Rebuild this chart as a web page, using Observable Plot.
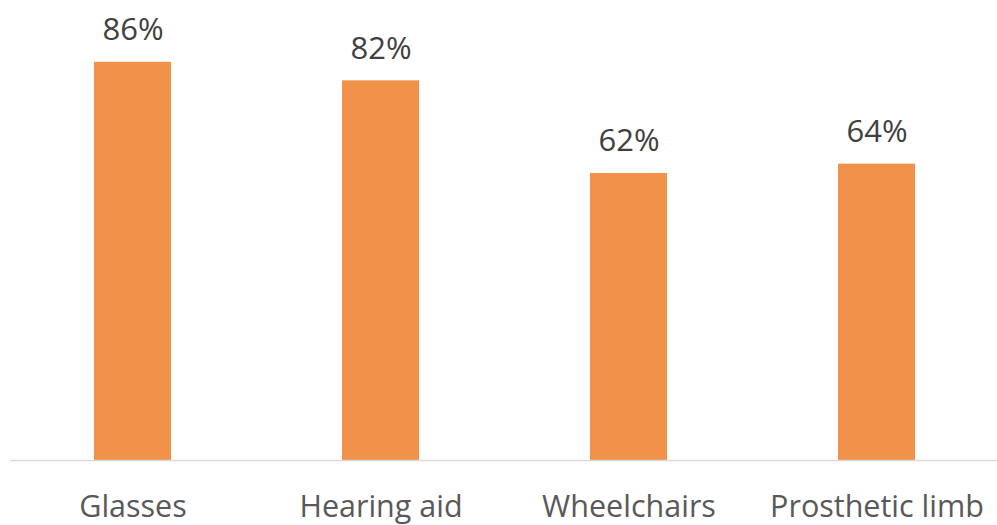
<!DOCTYPE html>
<html>
<head>
<meta charset="utf-8">
<script src="https://cdn.jsdelivr.net/npm/d3@7"></script>
<script src="https://cdn.jsdelivr.net/npm/@observablehq/plot@0.6"></script>
<style>
  html, body { margin: 0; padding: 0; background: #fff; }
  #chart svg { display: block; }
</style>
</head>
<body>
<div id="chart"></div>
<script>
const categories = ["Glasses", "Hearing aid", "Wheelchairs", "Prosthetic limb"];
const values = [86, 82, 62, 64];

const data = categories.map((c, i) => ({category: c, value: values[i]}));

const chart = Plot.plot({
  width: 997,
  height: 525,
  marginTop: 0,
  marginLeft: 10,
  marginRight: 0,
  marginBottom: 65,
  style: {fontFamily: "'Open Sans', sans-serif", background: "#fff"},
  x: {domain: categories, range: [9, 1001], paddingInner: 0.688, paddingOuter: 0.344, label: null},
  y: {domain: [0, 100], range: [460, -3], axis: null},
  marks: [
    Plot.barY(data, {x: "category", y: "value", fill: "#F1914A"}),
    Plot.ruleY([0], {stroke: "#d9d9d9", strokeWidth: 1.5}),
    Plot.text(data, {x: "category", y: "value", text: d => d.value + "%", lineAnchor: "bottom", dy: -22, fontSize: 31, fill: "#404040"}),
    Plot.axisX({tickSize: 0, tickPadding: 35, fontSize: 30.5, color: "#595959", label: null})
  ]
});
document.getElementById("chart").appendChild(chart);
</script>
</body>
</html>
